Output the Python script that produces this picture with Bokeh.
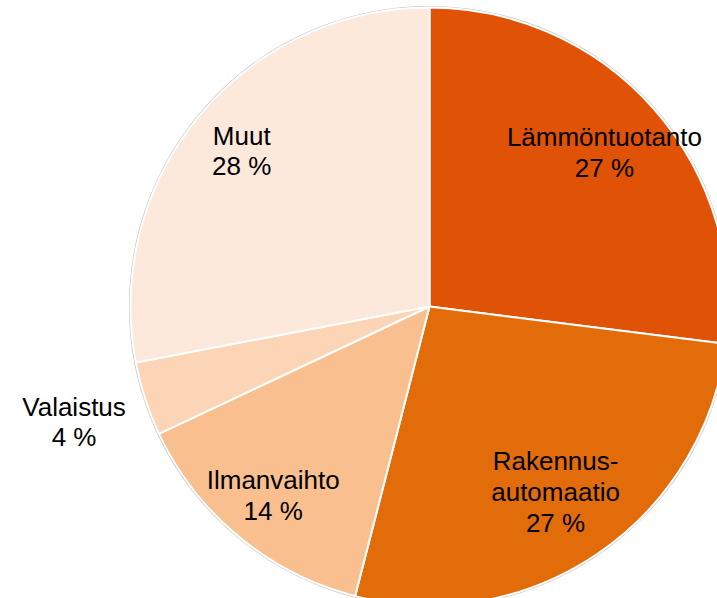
import math
from bokeh.plotting import figure
from bokeh.models import ColumnDataSource, Range1d
from bokeh.core.properties import value
from bokeh.embed import file_html
from bokeh.resources import INLINE

categories = ["Lämmöntuotanto", "Rakennus-\nautomaatio", "Ilmanvaihto", "Valaistus", "Muut"]
shares = [27, 27, 14, 4, 28]
colors = ["#E05206", "#E36C0A", "#F9BF8F", "#FBD5B5", "#FDE9DC"]
label_radius_frac = [0.78, 0.75, 0.82, 1.25, 0.815]

W, H = 717, 598
cx, cy, R = 429, 292, 299

total = sum(shares)
starts, ends, lx, ly, texts = [], [], [], [], []
cum = 0.0
for cat, s, f in zip(categories, shares, label_radius_frac):
    a0 = math.pi / 2 - 2 * math.pi * cum / total
    cum += s
    a1 = math.pi / 2 - 2 * math.pi * cum / total
    starts.append(a0)
    ends.append(a1)
    mid = (a0 + a1) / 2
    lx.append(cx + f * R * math.cos(mid))
    ly.append(cy + f * R * math.sin(mid))
    texts.append(f"{cat}\n{s} %")

src = ColumnDataSource(dict(start=starts, end=ends, color=colors))
lsrc = ColumnDataSource(dict(x=lx, y=ly, text=texts))

p = figure(width=W, height=H, output_backend="svg", toolbar_location=None,
           x_range=Range1d(0, W), y_range=Range1d(0, H), min_border=0)
p.axis.visible = False
p.grid.visible = False
p.outline_line_color = None
p.background_fill_color = "white"
p.border_fill_color = "white"

p.circle(x=[cx], y=[cy], radius=R + 1, fill_color=None, line_color="#C4C4C4", line_width=1.2)
p.wedge(x=cx, y=cy, radius=R, start_angle="start", end_angle="end", direction="clock",
        fill_color="color", line_color="white", line_width=2, source=src)
p.text(x="x", y="y", text="text", source=lsrc, text_align="center", text_baseline="middle",
       text_font=value("Liberation Sans"), text_font_size="26px", text_color="#000000",
       text_line_height=1.02)

open("out.html", "w").write(file_html(p, INLINE))
